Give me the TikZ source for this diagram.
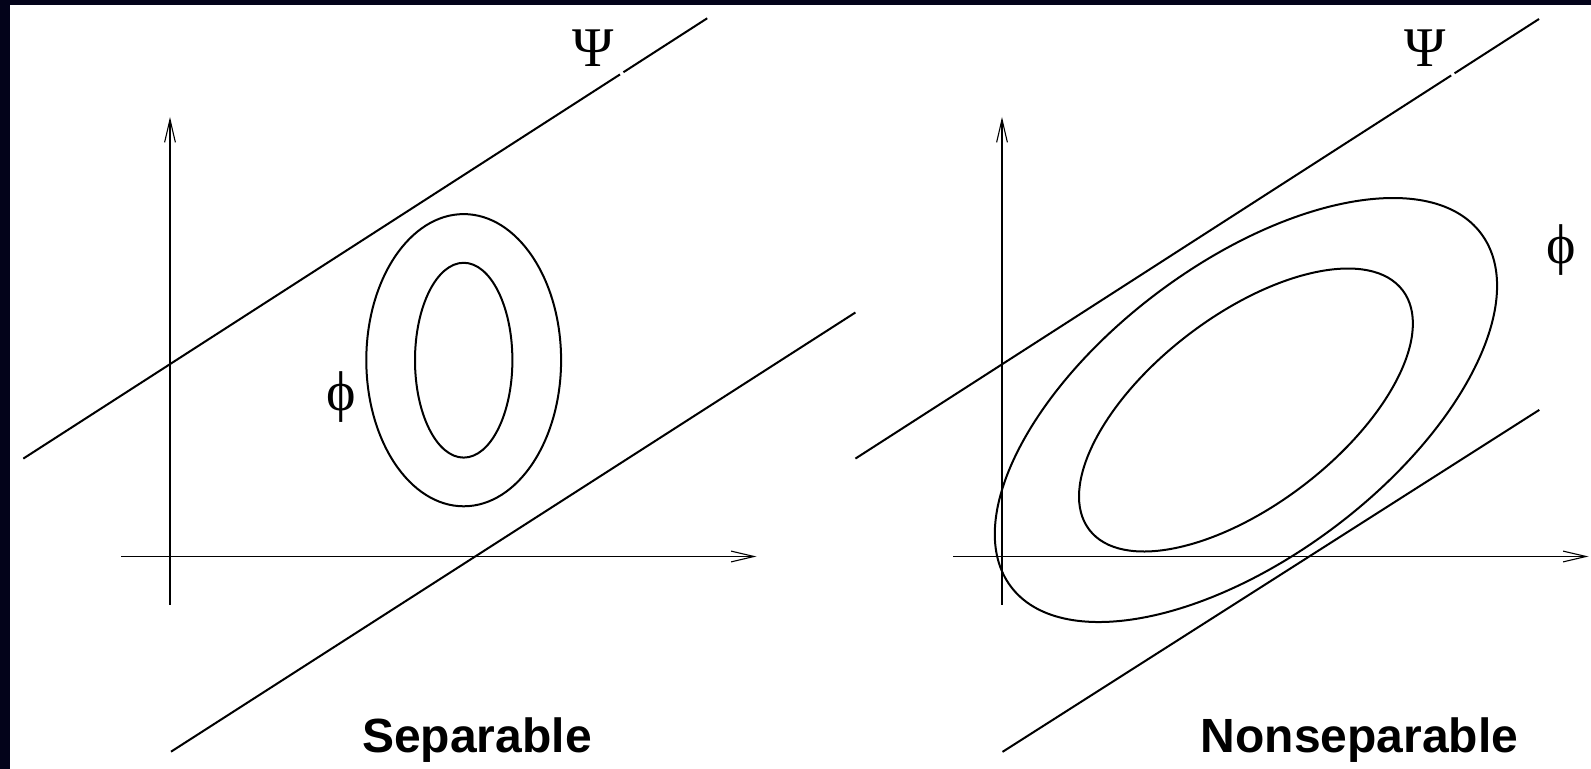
\documentclass[tikz,border=0pt]{standalone}
\usepackage{fontspec}
\setmainfont{Liberation Serif}
\newfontfamily\labsans{Liberation Sans}
\usetikzlibrary{arrows.meta,calc}
\definecolor{frame}{RGB}{3,3,26}
\tikzset{
  axis/.style={line width=0.55pt,-{Straight Barb[length=11.5pt,width=5.4pt,line width=0.55pt]}},
  bound/.style={line width=1pt},
  contour/.style={line width=1pt},
  greek/.style={font=\fontsize{28}{28}\selectfont, inner sep=0pt},
  title/.style={font=\labsans\bfseries\fontsize{24}{24}\selectfont, inner sep=0pt, anchor=base}
}
\begin{document}
\begin{tikzpicture}[x=0.5pt,y=-0.5pt]
\fill[frame] (0,0) rectangle (1591,769);
\fill[white] (10,5) rectangle (1591,769);
\useasboundingbox (0,0) rectangle (1591,769);

% ---------- left panel ----------
\coordinate (lxa) at (121,556.5);
\coordinate (lxb) at (756.5,556.5);
\coordinate (lya) at (170,605);
\coordinate (lyb) at (170,117);
\draw[axis] (lxa) -- (lxb);
\draw[axis] (lya) -- (lyb);

\coordinate (lu1) at (23.3,458.6);
\coordinate (lu2) at (707.2,18.3);
\draw[bound] (lu1) -- ($(lu1)!0.8725!(lu2)$);
\draw[bound] ($(lu1)!0.8775!(lu2)$) -- (lu2);
\coordinate (ll1) at (171,751.7);
\coordinate (ll2) at (855.4,312.5);
\draw[bound] (ll1) -- (ll2);

\coordinate (lc) at (463.7,360.2);
\draw[contour] (lc) ellipse [x radius=48.7pt, y radius=73.05pt];
\draw[contour] (lc) ellipse [x radius=24.35pt, y radius=48.7pt];

\node[greek] (lpsi) at (593,48) {Ψ};
\node[greek] (lphi) at (341,397.5) {ϕ};
\node[title] (ltitle) at (477,753) {Separable};

% ---------- right panel ----------
\coordinate (rxa) at (953,556.5);
\coordinate (rxb) at (1588.5,556.5);
\coordinate (rya) at (1002,605);
\coordinate (ryb) at (1002,117);
\draw[axis] (rxa) -- (rxb);
\draw[axis] (rya) -- (ryb);

\coordinate (ru1) at (855.4,458.6);
\coordinate (ru2) at (1539,19);
\draw[bound] (ru1) -- ($(ru1)!0.8715!(ru2)$);
\draw[bound] ($(ru1)!0.8765!(ru2)$) -- (ru2);
\coordinate (rl1) at (1002.5,751.9);
\coordinate (rl2) at (1539.3,409.9);
\draw[bound] (rl1) -- (rl2);

\coordinate (rc) at (1246,410);
\draw[contour,rotate around={36.9:(rc)}] (rc) ellipse [x radius=147pt, y radius=73.4pt];
\draw[contour,rotate around={37.4:(rc)}] (rc) ellipse [x radius=98.6pt, y radius=47.4pt];

\node[greek] (rpsi) at (1425,48) {Ψ};
\node[greek] (rphi) at (1561.5,250.5) {ϕ};
\node[title] (rtitle) at (1359.5,753) {Nonseparable};
\end{tikzpicture}
\end{document}
